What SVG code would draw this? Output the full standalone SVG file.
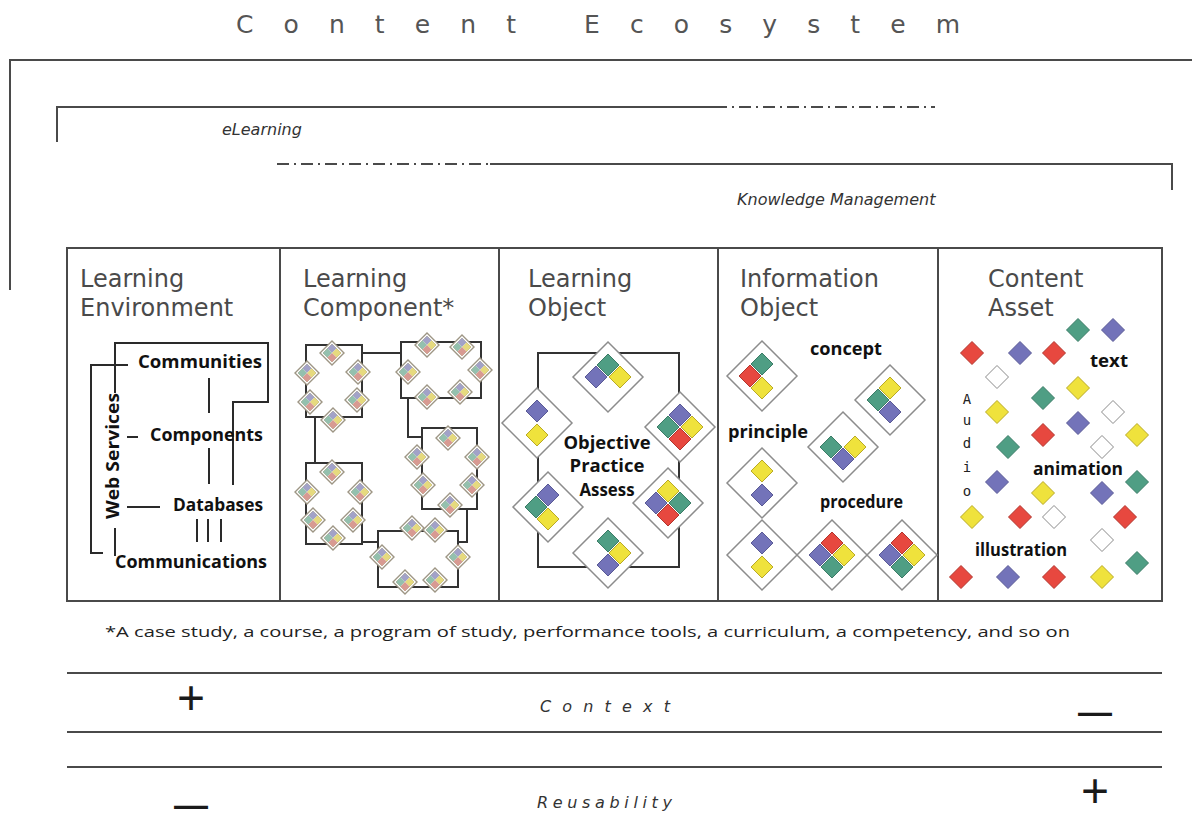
<svg xmlns="http://www.w3.org/2000/svg" width="1192" height="821" viewBox="0 0 1192 821">
<style>
.ln{fill:none;stroke:#4a4a4a;stroke-width:2}
.dd{fill:none;stroke:#4a4a4a;stroke-width:2;stroke-dasharray:12 5 2 5}
.k{fill:none;stroke:#2a2a2a;stroke-width:2}
.bx{fill:none;stroke:#333;stroke-width:2}
.hd{font-family:"DejaVu Sans",sans-serif;font-size:24px;fill:#4a4a4a}
.ttl{font-family:"DejaVu Sans",sans-serif;font-size:25px;fill:#555}
.it{font-family:"DejaVu Sans",sans-serif;font-style:italic;font-size:16px;fill:#333}
.b{font-family:"Open Sans","DejaVu Sans",sans-serif;font-weight:700;font-size:17px;fill:#111}
.ft{font-family:"Open Sans","DejaVu Sans",sans-serif;font-size:15px;fill:#222}
.sg{font-family:"Liberation Sans",sans-serif;fill:#1a1a1a}
.B{fill:#7373b9;stroke:#5a5a96}
.G{fill:#4f9e84;stroke:#3b7c66}
.Y{fill:#efe23c;stroke:#b9aa26}
.R{fill:#e7483f;stroke:#b2352d}
.W{fill:#fff;stroke:#8a8a8a}
</style>
<defs>
<path id="c" d="M0,-11L11,0L0,11L-11,0Z"/>
<path id="o" d="M0,-35L35,0L0,35L-35,0Z" fill="#fff" stroke="#8c8c8c" stroke-width="1.5"/>
<path id="s" d="M0,-11.5L11.5,0L0,11.5L-11.5,0Z"/>
<g id="m">
 <path d="M0,-12L12,0L0,12L-12,0Z" fill="#fff" stroke="#9d9584" stroke-width="1.4"/>
 <path d="M0,-9L9,0L0,9L-9,0Z" fill="none" stroke="#bdb79c" stroke-width="1"/>
 <path d="M0,-9L4.5,-4.5L0,0L-4.5,-4.5Z" fill="#a2a2c8"/>
 <path d="M-4.5,-4.5L0,0L-4.5,4.5L-9,0Z" fill="#94c0ae"/>
 <path d="M4.5,-4.5L9,0L4.5,4.5L0,0Z" fill="#e6da7e"/>
 <path d="M0,0L4.5,4.5L0,9L-4.5,4.5Z" fill="#d89a92"/>
</g>
</defs>

<g id="title">
 <text class="ttl" x="236" y="33" textLength="724" lengthAdjust="spacing">Content Ecosystem</text>
</g>

<g id="brackets">
 <path class="ln" d="M10,290V60H1192"/>
 <path class="ln" d="M57,142V107H715"/>
 <path class="dd" d="M715,107H935"/>
 <path class="dd" d="M277,164H490"/>
 <path class="ln" d="M490,164H1172V190"/>
 <text class="it" x="222" y="135">eLearning</text>
 <text class="it" x="737" y="205">Knowledge Management</text>
</g>

<g id="table">
 <rect class="ln" x="67" y="248" width="1095" height="353"/>
 <path class="ln" d="M280,248V601M499,248V601M718,248V601M938,248V601"/>
</g>

<g id="learning-environment">
 <text class="hd" x="80" y="287">Learning</text>
 <text class="hd" x="80" y="316">Environment</text>
 <path class="k" d="M115,393V343H268V402H233V485"/>
 <path class="k" d="M128,365H91V553H103"/>
 <path class="k" d="M115,528V556"/>
 <path class="k" d="M209,378V413M209,448V484M127,437H138M127,507H160M197,519V542M208,519V542M221,519V542"/>
 <text class="b" x="138" y="368" textLength="124" lengthAdjust="spacingAndGlyphs">Communities</text>
 <text class="b" x="150" y="441" textLength="113" lengthAdjust="spacingAndGlyphs">Components</text>
 <text class="b" x="173" y="511" textLength="90" lengthAdjust="spacingAndGlyphs">Databases</text>
 <text class="b" x="115" y="568" textLength="152" lengthAdjust="spacingAndGlyphs">Communications</text>
 <text class="b" transform="translate(119,456) rotate(-90)" text-anchor="middle" textLength="126" lengthAdjust="spacingAndGlyphs">Web Services</text>
</g>

<g id="learning-component">
 <text class="hd" x="303" y="287">Learning</text>
 <text class="hd" x="303" y="316">Component*</text>
 <path class="bx" d="M362,353H401M315,417V463M408,398V437H422M467,509V542H458M362,542H378"/>
 <rect class="bx" x="306" y="345" width="56" height="72"/>
 <rect class="bx" x="401" y="342" width="80" height="56"/>
 <rect class="bx" x="422" y="428" width="55" height="81"/>
 <rect class="bx" x="306" y="463" width="56" height="81"/>
 <rect class="bx" x="378" y="531" width="80" height="56"/>
 <use href="#m" x="332" y="353"/><use href="#m" x="307" y="373"/><use href="#m" x="358" y="372"/>
 <use href="#m" x="310" y="402"/><use href="#m" x="357" y="400"/><use href="#m" x="333" y="420"/>
 <use href="#m" x="427" y="345"/><use href="#m" x="462" y="347"/><use href="#m" x="408" y="372"/>
 <use href="#m" x="480" y="370"/><use href="#m" x="427" y="397"/><use href="#m" x="460" y="392"/>
 <use href="#m" x="448" y="438"/><use href="#m" x="417" y="457"/><use href="#m" x="477" y="457"/>
 <use href="#m" x="423" y="485"/><use href="#m" x="472" y="485"/><use href="#m" x="450" y="505"/>
 <use href="#m" x="332" y="472"/><use href="#m" x="307" y="492"/><use href="#m" x="360" y="492"/>
 <use href="#m" x="313" y="520"/><use href="#m" x="353" y="520"/><use href="#m" x="333" y="538"/>
 <use href="#m" x="412" y="528"/><use href="#m" x="435" y="530"/><use href="#m" x="382" y="557"/>
 <use href="#m" x="458" y="557"/><use href="#m" x="405" y="582"/><use href="#m" x="435" y="580"/>
</g>

<g id="learning-object">
 <text class="hd" x="528" y="287">Learning</text>
 <text class="hd" x="528" y="316">Object</text>
 <rect class="bx" x="538" y="353" width="141" height="214"/>
 <g transform="translate(608,377)"><use href="#o"/><use href="#c" y="-12" class="G"/><use href="#c" x="-12" class="B"/><use href="#c" x="12" class="Y"/></g>
 <g transform="translate(537,423)"><use href="#o"/><use href="#c" y="-12" class="B"/><use href="#c" y="12" class="Y"/></g>
 <g transform="translate(680,427)"><use href="#o"/><use href="#c" y="-12" class="B"/><use href="#c" x="-12" class="G"/><use href="#c" x="12" class="Y"/><use href="#c" y="12" class="R"/></g>
 <g transform="translate(548,507)"><use href="#o"/><use href="#c" y="-12" class="B"/><use href="#c" x="-12" class="G"/><use href="#c" y="12" class="Y"/></g>
 <g transform="translate(668,503)"><use href="#o"/><use href="#c" y="-12" class="Y"/><use href="#c" x="-12" class="B"/><use href="#c" x="12" class="G"/><use href="#c" y="12" class="R"/></g>
 <g transform="translate(608,553)"><use href="#o"/><use href="#c" y="-12" class="G"/><use href="#c" x="12" class="Y"/><use href="#c" y="12" class="B"/></g>
 <text class="b" x="607" y="449" text-anchor="middle" textLength="87" lengthAdjust="spacingAndGlyphs">Objective</text>
 <text class="b" x="607" y="472" text-anchor="middle" textLength="75" lengthAdjust="spacingAndGlyphs">Practice</text>
 <text class="b" x="607" y="496" text-anchor="middle" textLength="55" lengthAdjust="spacingAndGlyphs">Assess</text>
</g>

<g id="information-object">
 <text class="hd" x="740" y="287">Information</text>
 <text class="hd" x="740" y="316">Object</text>
 <g transform="translate(762,376)"><use href="#o"/><use href="#c" y="-12" class="G"/><use href="#c" x="-12" class="R"/><use href="#c" y="12" class="Y"/></g>
 <g transform="translate(890,400)"><use href="#o"/><use href="#c" y="-12" class="Y"/><use href="#c" x="-12" class="G"/><use href="#c" y="12" class="B"/></g>
 <g transform="translate(843,447)"><use href="#o"/><use href="#c" x="-12" class="G"/><use href="#c" x="12" class="Y"/><use href="#c" y="12" class="B"/></g>
 <g transform="translate(762,483)"><use href="#o"/><use href="#c" y="-12" class="Y"/><use href="#c" y="12" class="B"/></g>
 <g transform="translate(762,555)"><use href="#o"/><use href="#c" y="-12" class="B"/><use href="#c" y="12" class="Y"/></g>
 <g transform="translate(832,555)"><use href="#o"/><use href="#c" y="-12" class="R"/><use href="#c" x="-12" class="B"/><use href="#c" x="12" class="Y"/><use href="#c" y="12" class="G"/></g>
 <g transform="translate(902,555)"><use href="#o"/><use href="#c" y="-12" class="R"/><use href="#c" x="-12" class="B"/><use href="#c" x="12" class="Y"/><use href="#c" y="12" class="G"/></g>
 <text class="b" x="810" y="355" textLength="72" lengthAdjust="spacingAndGlyphs">concept</text>
 <text class="b" x="728" y="438" textLength="80" lengthAdjust="spacingAndGlyphs">principle</text>
 <text class="b" x="820" y="508" textLength="83" lengthAdjust="spacingAndGlyphs">procedure</text>
</g>

<g id="content-asset">
 <text class="hd" x="988" y="287">Content</text>
 <text class="hd" x="988" y="316">Asset</text>
 <g stroke-width="1">
 <use href="#s" x="1078" y="330" class="G"/><use href="#s" x="1113" y="330" class="B"/>
 <use href="#s" x="972" y="353" class="R"/><use href="#s" x="1020" y="353" class="B"/><use href="#s" x="1054" y="353" class="R"/>
 <use href="#s" x="997" y="377" class="W"/><use href="#s" x="1078" y="388" class="Y"/>
 <use href="#s" x="1043" y="398" class="G"/><use href="#s" x="997" y="412" class="Y"/><use href="#s" x="1113" y="412" class="W"/>
 <use href="#s" x="1078" y="423" class="B"/><use href="#s" x="1043" y="435" class="R"/><use href="#s" x="1137" y="435" class="Y"/>
 <use href="#s" x="1008" y="447" class="G"/><use href="#s" x="1102" y="447" class="W"/>
 <use href="#s" x="997" y="482" class="B"/><use href="#s" x="1137" y="482" class="G"/>
 <use href="#s" x="1043" y="493" class="Y"/><use href="#s" x="1102" y="493" class="B"/>
 <use href="#s" x="972" y="517" class="Y"/><use href="#s" x="1020" y="517" class="R"/><use href="#s" x="1054" y="517" class="W"/><use href="#s" x="1125" y="517" class="R"/>
 <use href="#s" x="1102" y="540" class="W"/><use href="#s" x="1137" y="563" class="G"/>
 <use href="#s" x="961" y="577" class="R"/><use href="#s" x="1008" y="577" class="B"/><use href="#s" x="1054" y="577" class="R"/><use href="#s" x="1102" y="577" class="Y"/>
 </g>
 <text class="b" x="1090" y="367" textLength="38" lengthAdjust="spacingAndGlyphs">text</text>
 <text class="b" x="1033" y="475" textLength="90" lengthAdjust="spacingAndGlyphs">animation</text>
 <text class="b" x="975" y="556" font-weight="600" font-size="16" textLength="92" lengthAdjust="spacingAndGlyphs">illustration</text>
 <g font-family="DejaVu Sans Mono, monospace" font-size="14" fill="#222" text-anchor="middle">
  <text x="967" y="404">A</text><text x="967" y="425">u</text><text x="967" y="448">d</text><text x="967" y="472">i</text><text x="967" y="496">o</text>
 </g>
</g>

<g id="footnote">
 <text class="ft" x="105" y="637" textLength="965" lengthAdjust="spacingAndGlyphs">*A case study, a course, a program of study, performance tools, a curriculum, a competency, and so on</text>
</g>

<g id="scales">
 <path class="ln" d="M67,673H1162M67,732H1162M67,767H1162"/>
 <text class="it" x="540" y="712" font-size="19" textLength="130" lengthAdjust="spacing">Context</text>
 <text class="it" x="537" y="808" font-size="19" textLength="135" lengthAdjust="spacing">Reusability</text>
 <text class="sg" x="191" y="714" font-size="48" text-anchor="middle">+</text>
 <text class="sg" x="1095" y="723" font-size="34" font-weight="700" text-anchor="middle">—</text>
 <text class="sg" x="191" y="816" font-size="34" font-weight="700" text-anchor="middle">—</text>
 <text class="sg" x="1095" y="807" font-size="48" text-anchor="middle">+</text>
</g>
</svg>
